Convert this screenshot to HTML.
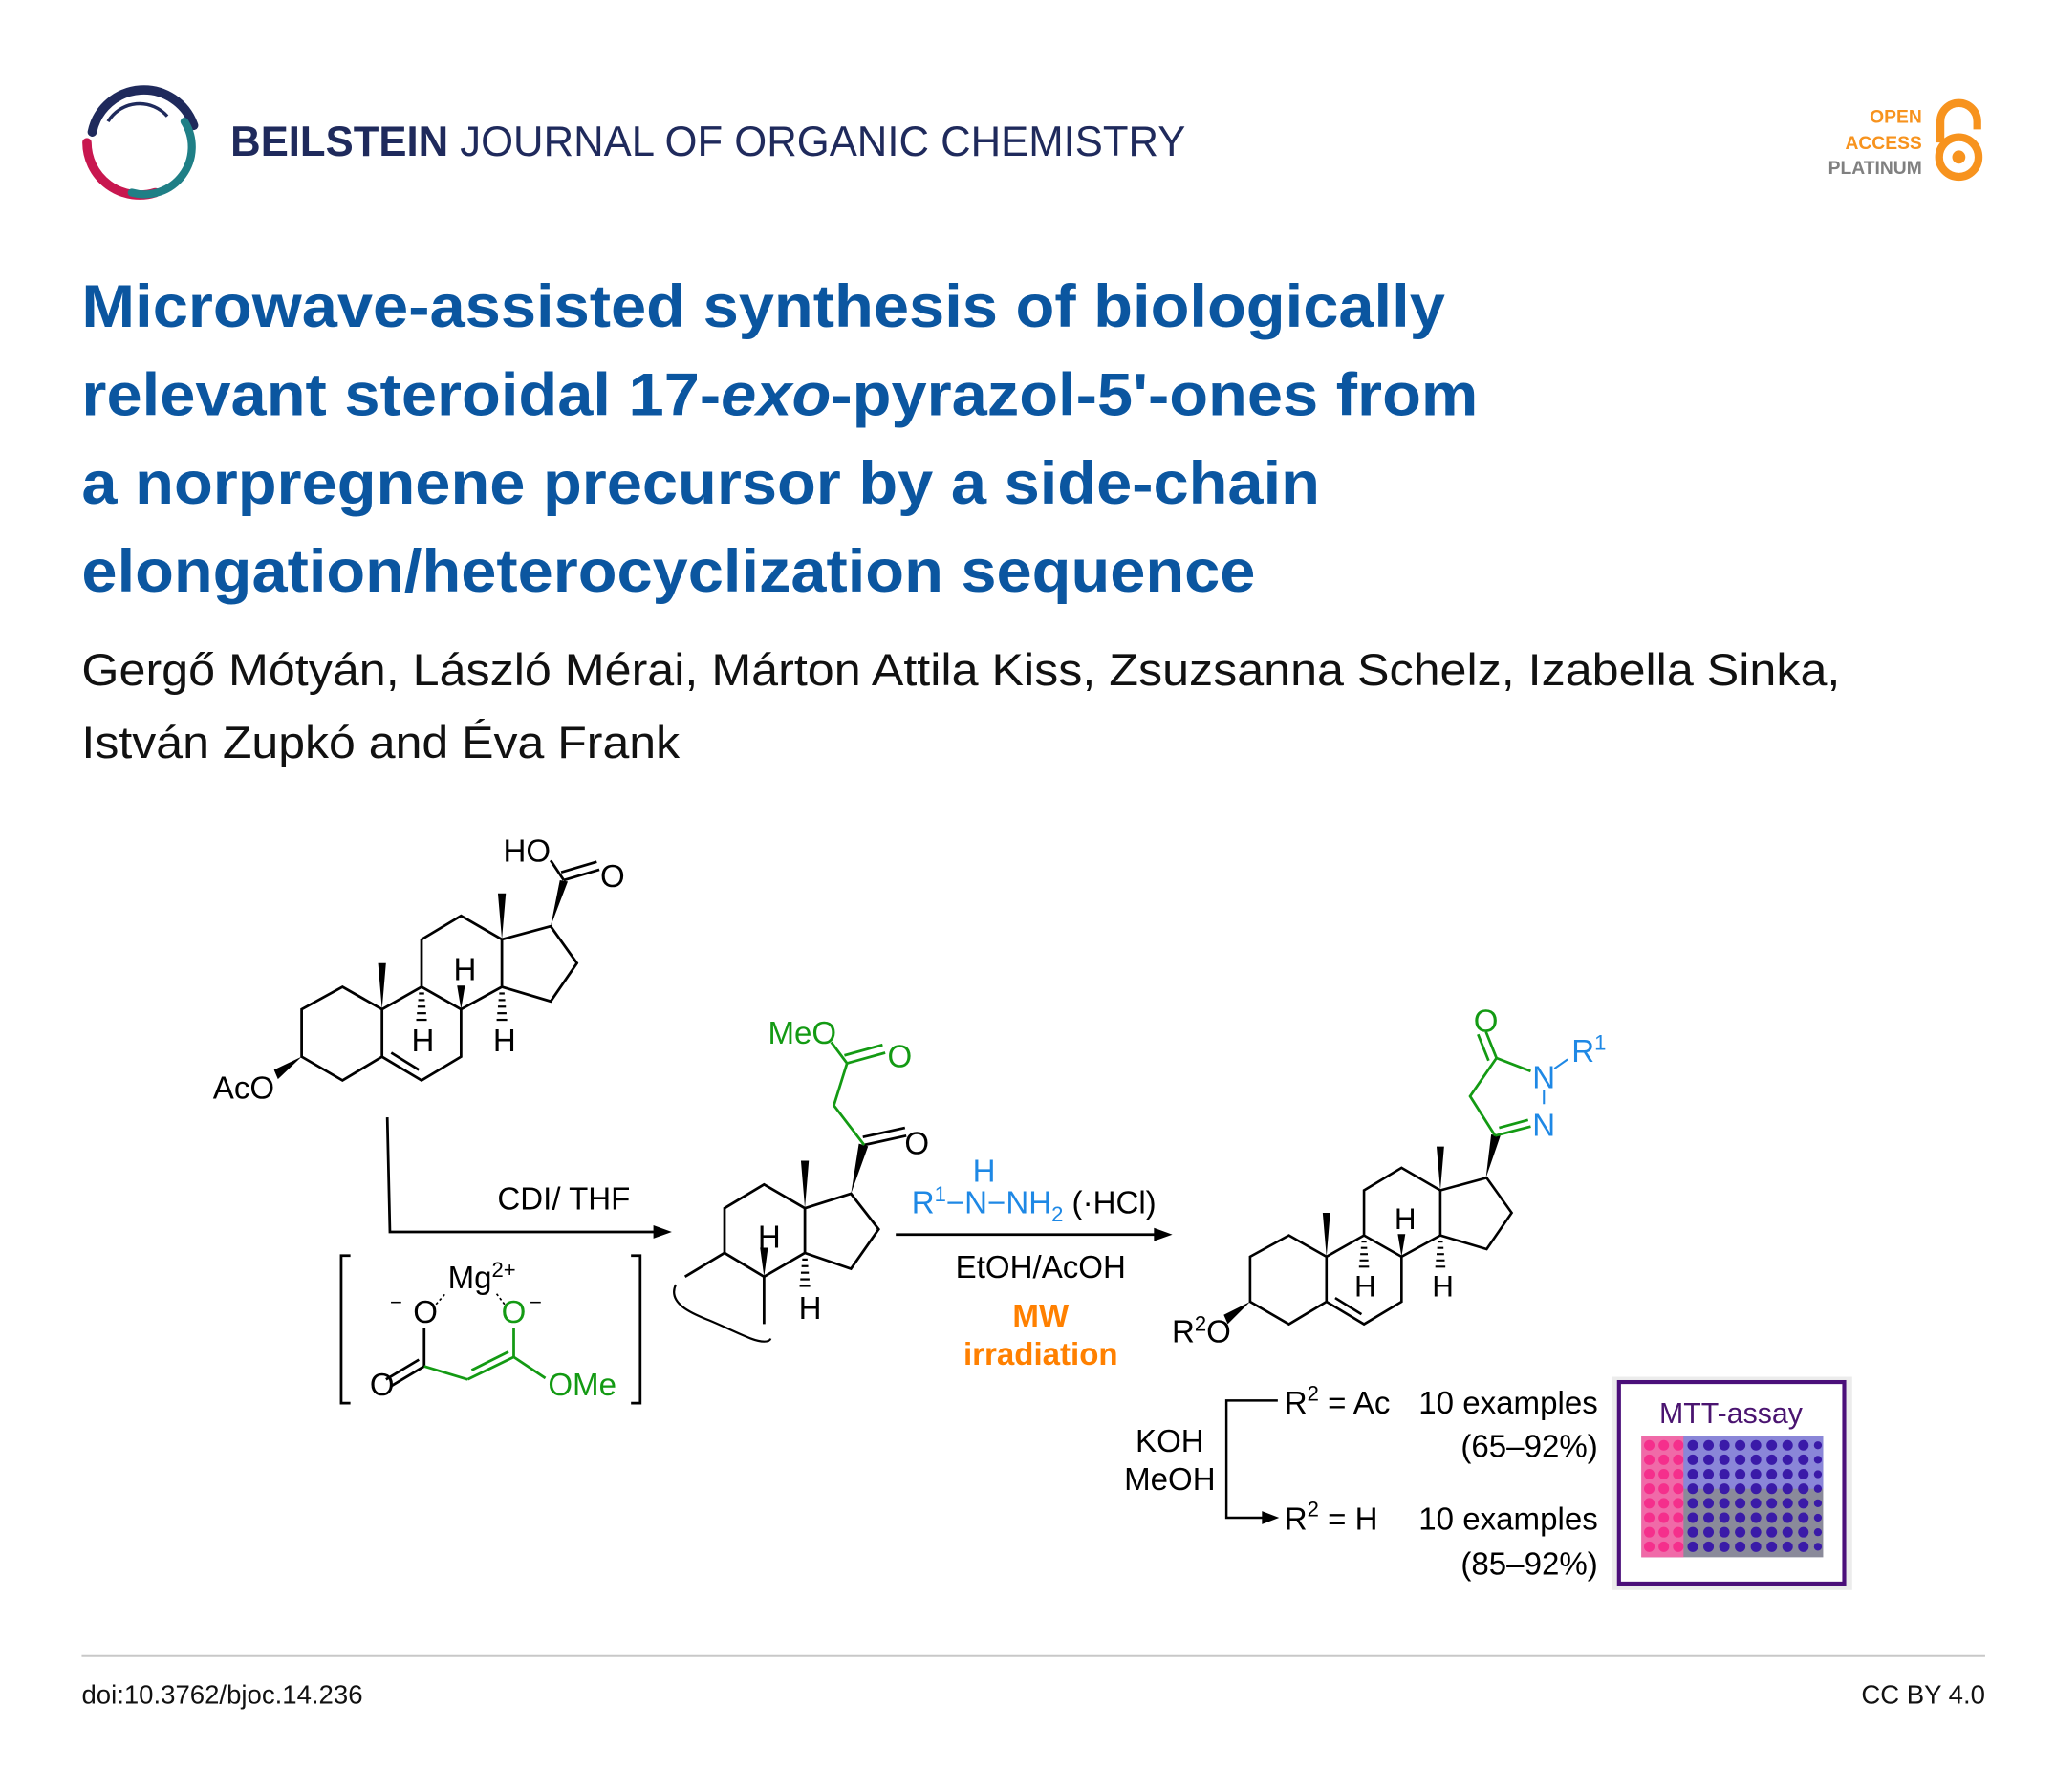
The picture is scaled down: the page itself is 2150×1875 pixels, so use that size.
<!DOCTYPE html>
<html><head><meta charset="utf-8"><style>
html,body{margin:0;padding:0;background:#fff;}
svg{display:block;}
text{font-family:"Liberation Sans",Arial,sans-serif;}
</style></head><body>
<svg width="2150" height="1875" viewBox="0 0 1560 1360" xmlns="http://www.w3.org/2000/svg">
<rect width="1560" height="1360" fill="#fff"/>
<!-- logo -->
<path d="M70,100 A40,40 0 0 1 147,95" fill="none" stroke="#1f2a5c" stroke-width="7" stroke-linecap="round"/>
<path d="M66,108 A40,40 0 0 0 118,146" fill="none" stroke="#c8174f" stroke-width="7" stroke-linecap="round"/>
<path d="M140,92 A36,36 0 0 1 100,146" fill="none" stroke="#1f7f86" stroke-width="6" stroke-linecap="round"/>
<path d="M82,92 A28,28 0 0 1 127,88" fill="none" stroke="#1f2a5c" stroke-width="2.5"/>
<text x="175" y="118" font-size="32" fill="#1f2a5c" textLength="725" lengthAdjust="spacingAndGlyphs"><tspan font-weight="bold">BEILSTEIN</tspan> JOURNAL OF ORGANIC CHEMISTRY</text>
<!-- open access -->
<text x="1459" y="93" font-size="14" font-weight="bold" fill="#f7931e" text-anchor="end">OPEN</text>
<text x="1459" y="113" font-size="14" font-weight="bold" fill="#f7931e" text-anchor="end">ACCESS</text>
<text x="1459" y="132" font-size="14" font-weight="bold" fill="#808080" text-anchor="end">PLATINUM</text>
<path d="M1473,108 V92 A14,14 0 0 1 1501,92 V98" fill="none" stroke="#f7931e" stroke-width="6"/>
<circle cx="1487" cy="119" r="15" fill="none" stroke="#f7931e" stroke-width="6"/>
<circle cx="1487" cy="119" r="5" fill="#f7931e"/>
<!-- title -->
<g font-size="46" font-weight="bold" fill="#0b56a0">
<text x="62" y="248" textLength="1035" lengthAdjust="spacingAndGlyphs">Microwave-assisted synthesis of biologically</text>
<text x="62" y="315" textLength="1060" lengthAdjust="spacingAndGlyphs">relevant steroidal 17-<tspan font-style="italic">exo</tspan>-pyrazol-5'-ones from</text>
<text x="62" y="382" textLength="940" lengthAdjust="spacingAndGlyphs">a norpregnene precursor by a side-chain</text>
<text x="62" y="449" textLength="891" lengthAdjust="spacingAndGlyphs">elongation/heterocyclization sequence</text>
</g>
<g font-size="34" fill="#111">
<text x="62" y="520" textLength="1335" lengthAdjust="spacingAndGlyphs">Gergő Mótyán, László Mérai, Márton Attila Kiss, Zsuzsanna Schelz, Izabella Sinka,</text>
<text x="62" y="575" textLength="454" lengthAdjust="spacingAndGlyphs">István Zupkó and Éva Frank</text>
</g>
<!-- footer -->
<line x1="62" y1="1257" x2="1507" y2="1257" stroke="#c8c8c8" stroke-width="1.5"/>
<text x="62" y="1293" font-size="20" fill="#111">doi:10.3762/bjoc.14.236</text>
<text x="1507" y="1293" font-size="20" fill="#111" text-anchor="end">CC BY 4.0</text>

<defs>
<g id="core">
<g stroke="#000" stroke-width="2" fill="none">
<path d="M260,749 L229,766 L229,802 L260,820 L290,802 L290,766 Z"/>
<path d="M290,802 L320,820 L350,802 L350,766 L320,749 L290,766"/>
<path d="M297,799 L318,812"/>
<path d="M320,749 L320,713 L350,695 L381,713 L381,749 L350,766"/>
<path d="M381,713 L418,703 L438,731 L418,760 L381,749"/>
</g>
<polygon points="290,766 287,731 293,731" fill="#000"/>
<polygon points="381,713 378,678 384,678" fill="#000"/>
<polygon points="350,766 347,748 353,748" fill="#000"/>
<g stroke="#000" stroke-width="1.6">
<line x1="318" y1="754" x2="322" y2="754"/><line x1="317.5" y1="759" x2="322.5" y2="759"/><line x1="317" y1="764" x2="323" y2="764"/><line x1="316.5" y1="769" x2="323.5" y2="769"/><line x1="316" y1="774" x2="324" y2="774"/>
<line x1="379" y1="754" x2="383" y2="754"/><line x1="378.5" y1="759" x2="383.5" y2="759"/><line x1="378" y1="764" x2="384" y2="764"/><line x1="377.5" y1="769" x2="384.5" y2="769"/><line x1="377" y1="774" x2="385" y2="774"/>
</g>
<g font-size="24" fill="#000" text-anchor="middle">
<text x="321" y="798">H</text><text x="383" y="798">H</text><text x="353" y="744">H</text>
</g>
</g>
</defs>

<!-- steroid 1 -->
<use href="#core"/>
<polygon points="229,802 208,812 211,819" fill="#000"/>
<text x="185" y="834" font-size="24" text-anchor="middle">AcO</text>
<polygon points="418,703 425,668 431,669" fill="#000"/>
<g stroke="#000" stroke-width="2">
<line x1="428" y1="668" x2="418" y2="653"/>
<line x1="428" y1="668" x2="455" y2="660"/><line x1="426" y1="662" x2="453" y2="654"/>
</g>
<text x="400" y="654" font-size="24" text-anchor="middle">HO</text>
<text x="465" y="673" font-size="24" text-anchor="middle">O</text>

<!-- arrow 1 -->
<path d="M294,848 L296,935 L500,935" fill="none" stroke="#000" stroke-width="2"/>
<polygon points="510,935 496,930 496,940" fill="#000"/>
<text x="428" y="918" font-size="24" text-anchor="middle">CDI/ THF</text>
<path d="M266,953 H259 V1065 H266 M479,953 H486 V1065 H479" fill="none" stroke="#000" stroke-width="2"/>
<!-- Mg complex -->
<text x="340" y="978" font-size="24">Mg<tspan font-size="16" dy="-9">2+</tspan></text>
<text x="296" y="994" font-size="16">−</text>
<text x="323" y="1004" font-size="24" text-anchor="middle">O</text>
<text x="390" y="1004" font-size="24" text-anchor="middle" fill="#139a13">O</text>
<text x="402" y="994" font-size="16">−</text>
<g stroke="#000" stroke-width="1.2" stroke-dasharray="2,2"><line x1="331" y1="990" x2="338" y2="982"/><line x1="377" y1="982" x2="383" y2="990"/></g>
<g stroke="#000" stroke-width="2"><line x1="322" y1="1008" x2="322" y2="1037"/><line x1="322" y1="1037" x2="297" y2="1052"/><line x1="318" y1="1032" x2="293" y2="1047"/></g>
<g stroke="#139a13" stroke-width="2"><line x1="322" y1="1037" x2="355" y2="1047"/><line x1="355" y1="1047" x2="390" y2="1030"/><line x1="358" y1="1040" x2="386" y2="1026"/><line x1="390" y1="1030" x2="390" y2="1008"/><line x1="390" y1="1030" x2="414" y2="1046"/></g>
<text x="290" y="1059" font-size="24" text-anchor="middle">O</text>
<text x="442" y="1059" font-size="24" text-anchor="middle" fill="#139a13">OMe</text>

<!-- intermediate -->
<g stroke="#000" stroke-width="2" fill="none">
<path d="M550,917 L580,899 L611,917 L611,951 L580,969 L550,951 Z"/>
<path d="M611,917 L646,906 L667,933 L646,963 L611,951"/>
<path d="M550,951 L520,969 M580,969 L580,1005"/>
<path d="M513,975 C506,990 528,998 538,1002 C550,1007 560,1012 570,1016 C578,1019 584,1019 585,1016" stroke-width="1.6"/>
<line x1="656" y1="869" x2="688" y2="862"/><line x1="655" y1="863" x2="687" y2="856"/>
</g>
<polygon points="611,917 608,881 614,881" fill="#000"/>
<polygon points="580,969 577,947 583,947" fill="#000"/>
<polygon points="646,906 652,868 659,870" fill="#000"/>
<g stroke="#000" stroke-width="1.6">
<line x1="609" y1="956" x2="613" y2="956"/><line x1="608.5" y1="961" x2="613.5" y2="961"/><line x1="608" y1="966" x2="614" y2="966"/><line x1="607.5" y1="971" x2="614.5" y2="971"/><line x1="607" y1="976" x2="615" y2="976"/>
</g>
<g font-size="24" text-anchor="middle"><text x="584" y="947">H</text><text x="615" y="1001">H</text><text x="696" y="876">O</text></g>
<g stroke="#139a13" stroke-width="2" fill="none">
<path d="M656,869 L633,839 L643,807 L631,791"/>
<line x1="643" y1="807" x2="672" y2="799"/><line x1="641" y1="801" x2="670" y2="793"/>
</g>
<g font-size="24" text-anchor="middle" fill="#139a13"><text x="609" y="792">MeO</text><text x="683" y="810">O</text></g>

<!-- arrow 2 -->
<line x1="680" y1="937" x2="878" y2="937" stroke="#000" stroke-width="2"/>
<polygon points="890,937 876,932 876,942" fill="#000"/>
<text x="747" y="897" font-size="24" text-anchor="middle" fill="#1e88e5">H</text>
<text x="692" y="921" font-size="24" fill="#1e88e5">R<tspan font-size="16" dy="-9">1</tspan><tspan dy="9">−N−NH</tspan><tspan font-size="16" dy="6">2</tspan><tspan fill="#000" dy="-6"> (·HCl)</tspan></text>
<text x="790" y="970" font-size="24" text-anchor="middle">EtOH/AcOH</text>
<text x="790" y="1007" font-size="24" font-weight="bold" text-anchor="middle" fill="#ff8000">MW</text>
<text x="790" y="1036" font-size="24" font-weight="bold" text-anchor="middle" fill="#ff8000">irradiation</text>

<!-- product -->
<g transform="translate(949,988) scale(0.95) translate(-229,-802)"><use href="#core"/></g>
<polygon points="949,988 929,998 932,1005" fill="#000"/>
<text x="912" y="1019" font-size="24" text-anchor="middle">R<tspan font-size="16" dy="-9">2</tspan><tspan dy="9">O</tspan></text>
<polygon points="1128,894 1132,861 1139,862" fill="#000"/>
<g stroke="#139a13" stroke-width="2" fill="none">
<path d="M1135,862 L1116,832 L1136,803 L1162,813"/>
<line x1="1136" y1="803" x2="1128" y2="783"/><line x1="1130" y1="805" x2="1122" y2="785"/>
<line x1="1135" y1="862" x2="1162" y2="855"/><line x1="1138" y1="856" x2="1160" y2="850"/>
</g>
<line x1="1172" y1="827" x2="1172" y2="838" stroke="#1e88e5" stroke-width="1.5"/>
<line x1="1180" y1="811" x2="1190" y2="804" stroke="#1e88e5" stroke-width="1.5"/>
<text x="1128" y="783" font-size="24" text-anchor="middle" fill="#139a13">O</text>
<g font-size="24" text-anchor="middle" fill="#1e88e5"><text x="1172" y="826">N</text><text x="1172" y="862">N</text></g>
<text x="1193" y="806" font-size="24" fill="#1e88e5">R<tspan font-size="16" dy="-9">1</tspan></text>

<!-- KOH branch -->
<text x="888" y="1102" font-size="24" text-anchor="middle">KOH</text>
<text x="888" y="1131" font-size="24" text-anchor="middle">MeOH</text>
<path d="M970,1063 H931 V1152 H960" fill="none" stroke="#000" stroke-width="1.8"/>
<polygon points="971,1152 958,1147 958,1157" fill="#000"/>
<g font-size="24">
<text x="975" y="1073">R<tspan font-size="16" dy="-10">2</tspan><tspan dy="10"> = Ac</tspan></text>
<text x="1213" y="1073" text-anchor="end">10 examples</text>
<text x="1213" y="1106" text-anchor="end">(65–92%)</text>
<text x="975" y="1161">R<tspan font-size="16" dy="-10">2</tspan><tspan dy="10"> = H</tspan></text>
<text x="1213" y="1161" text-anchor="end">10 examples</text>
<text x="1213" y="1195" text-anchor="end">(85–92%)</text>
</g>
<!-- MTT box -->
<rect x="1224" y="1045" width="182" height="162" fill="#ececec"/>
<rect x="1229" y="1049" width="171" height="153" fill="#fff" stroke="#4b0f7a" stroke-width="3"/>
<text x="1314" y="1080" font-size="22" text-anchor="middle" fill="#4a1470">MTT-assay</text>
<rect x="1246" y="1090" width="138" height="92" fill="#8a8a9a"/>
<g>
<rect x="1246" y="1090" width="32" height="92" fill="#f06aa8"/>
<g fill="#f52f8c">
<circle cx="1252" cy="1097" r="4"/><circle cx="1263" cy="1097" r="4"/><circle cx="1274" cy="1097" r="4"/>
<circle cx="1252" cy="1108" r="4"/><circle cx="1263" cy="1108" r="4"/><circle cx="1274" cy="1108" r="4"/>
<circle cx="1252" cy="1119" r="4"/><circle cx="1263" cy="1119" r="4"/><circle cx="1274" cy="1119" r="4"/>
<circle cx="1252" cy="1130" r="4"/><circle cx="1263" cy="1130" r="4"/><circle cx="1274" cy="1130" r="4"/>
<circle cx="1252" cy="1141" r="4"/><circle cx="1263" cy="1141" r="4"/><circle cx="1274" cy="1141" r="4"/>
<circle cx="1252" cy="1152" r="4"/><circle cx="1263" cy="1152" r="4"/><circle cx="1274" cy="1152" r="4"/>
<circle cx="1252" cy="1163" r="4"/><circle cx="1263" cy="1163" r="4"/><circle cx="1274" cy="1163" r="4"/>
<circle cx="1252" cy="1174" r="4"/><circle cx="1263" cy="1174" r="4"/><circle cx="1274" cy="1174" r="4"/>
</g>
<rect x="1278" y="1090" width="106" height="40" fill="#8a86d8"/>
<g fill="#3a1aa8">
<circle cx="1285" cy="1097" r="4"/><circle cx="1297" cy="1097" r="4"/><circle cx="1309" cy="1097" r="4"/><circle cx="1321" cy="1097" r="4"/><circle cx="1333" cy="1097" r="4"/><circle cx="1345" cy="1097" r="4"/><circle cx="1357" cy="1097" r="4"/><circle cx="1369" cy="1097" r="4"/><circle cx="1380" cy="1097" r="3"/>
<circle cx="1285" cy="1108" r="4"/><circle cx="1297" cy="1108" r="4"/><circle cx="1309" cy="1108" r="4"/><circle cx="1321" cy="1108" r="4"/><circle cx="1333" cy="1108" r="4"/><circle cx="1345" cy="1108" r="4"/><circle cx="1357" cy="1108" r="4"/><circle cx="1369" cy="1108" r="4"/><circle cx="1380" cy="1108" r="3"/>
<circle cx="1285" cy="1119" r="4"/><circle cx="1297" cy="1119" r="4"/><circle cx="1309" cy="1119" r="4"/><circle cx="1321" cy="1119" r="4"/><circle cx="1333" cy="1119" r="4"/><circle cx="1345" cy="1119" r="4"/><circle cx="1357" cy="1119" r="4"/><circle cx="1369" cy="1119" r="4"/><circle cx="1380" cy="1119" r="3"/>
<circle cx="1285" cy="1130" r="4"/><circle cx="1297" cy="1130" r="4"/><circle cx="1309" cy="1130" r="4"/><circle cx="1321" cy="1130" r="4"/><circle cx="1333" cy="1130" r="4"/><circle cx="1345" cy="1130" r="4"/><circle cx="1357" cy="1130" r="4"/><circle cx="1369" cy="1130" r="4"/><circle cx="1380" cy="1130" r="3"/>
<circle cx="1285" cy="1141" r="4"/><circle cx="1297" cy="1141" r="4"/><circle cx="1309" cy="1141" r="4"/><circle cx="1321" cy="1141" r="4"/><circle cx="1333" cy="1141" r="4"/><circle cx="1345" cy="1141" r="4"/><circle cx="1357" cy="1141" r="4"/><circle cx="1369" cy="1141" r="4"/><circle cx="1380" cy="1141" r="3"/>
<circle cx="1285" cy="1152" r="4"/><circle cx="1297" cy="1152" r="4"/><circle cx="1309" cy="1152" r="4"/><circle cx="1321" cy="1152" r="4"/><circle cx="1333" cy="1152" r="4"/><circle cx="1345" cy="1152" r="4"/><circle cx="1357" cy="1152" r="4"/><circle cx="1369" cy="1152" r="4"/><circle cx="1380" cy="1152" r="3"/>
<circle cx="1285" cy="1163" r="4"/><circle cx="1297" cy="1163" r="4"/><circle cx="1309" cy="1163" r="4"/><circle cx="1321" cy="1163" r="4"/><circle cx="1333" cy="1163" r="4"/><circle cx="1345" cy="1163" r="4"/><circle cx="1357" cy="1163" r="4"/><circle cx="1369" cy="1163" r="4"/><circle cx="1380" cy="1163" r="3"/>
<circle cx="1285" cy="1174" r="4"/><circle cx="1297" cy="1174" r="4"/><circle cx="1309" cy="1174" r="4"/><circle cx="1321" cy="1174" r="4"/><circle cx="1333" cy="1174" r="4"/><circle cx="1345" cy="1174" r="4"/><circle cx="1357" cy="1174" r="4"/><circle cx="1369" cy="1174" r="4"/><circle cx="1380" cy="1174" r="3"/>
</g>
</g>
</svg>
</body></html>
